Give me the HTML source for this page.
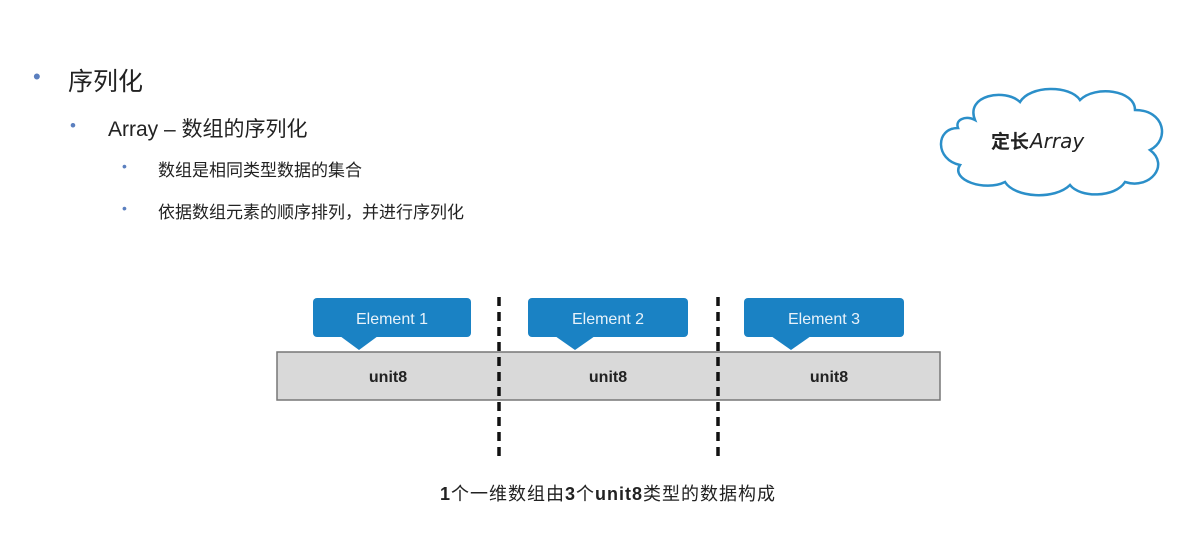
<!DOCTYPE html>
<html><head><meta charset="utf-8"><style>
body{margin:0;width:1201px;height:537px;background:#fff;position:relative;overflow:hidden;font-family:"Liberation Sans","Noto Sans CJK SC",sans-serif;color:#222}
.t{position:absolute;white-space:nowrap}
.b{position:absolute;color:#5b7fbf}
</style></head><body>
<div class="b" style="left:33px;top:64px;font-size:22px">•</div>
<div class="t" style="left:68px;top:62px;font-size:25px">序列化</div>
<div class="b" style="left:70px;top:116px;font-size:17px">•</div>
<div class="t" style="left:108px;top:113px;font-size:21px">Array – 数组的序列化</div>
<div class="b" style="left:122px;top:158px;font-size:14px">•</div>
<div class="t" style="left:158px;top:156px;font-size:17px">数组是相同类型数据的集合</div>
<div class="b" style="left:122px;top:200px;font-size:14px">•</div>
<div class="t" style="left:158px;top:198px;font-size:17px">依据数组元素的顺序排列，并进行序列化</div>

<svg width="1201" height="537" style="position:absolute;left:0;top:0">
<path d="M975,120 C965,95 1005,88 1020,102 C1030,85 1070,85 1080,100 C1095,85 1135,90 1135,110 C1165,110 1170,140 1150,150 C1170,165 1150,190 1125,182 C1115,198 1080,198 1070,185 C1055,200 1015,198 1005,182 C985,192 950,180 960,165 C935,160 935,128 958,128 C955,120 965,115 975,120 Z" fill="#fff" stroke="#2b8fc9" stroke-width="2.5"/>
<text x="991" y="148" font-size="19" font-family="Liberation Sans,Noto Sans CJK SC,sans-serif" font-weight="bold" fill="#222">定长</text>
<text x="1030" y="148" font-size="20" font-style="italic" font-family="DejaVu Sans,sans-serif" fill="#222">Array</text>

<rect x="277" y="352" width="663" height="48" fill="#d9d9d9" stroke="#777" stroke-width="1.5"/>
<g fill="#1a82c4">
<rect x="313" y="298" width="158" height="39" rx="4"/><polygon points="340,336 378,336 359,350"/>
<rect x="528" y="298" width="160" height="39" rx="4"/><polygon points="555,336 595,336 575,350"/>
<rect x="744" y="298" width="160" height="39" rx="4"/><polygon points="771,336 811,336 791,350"/>
</g>
<g fill="#e8f2fa" font-size="16" font-family="Liberation Sans,sans-serif" text-anchor="middle">
<text x="392" y="324">Element 1</text><text x="608" y="324">Element 2</text><text x="824" y="324">Element 3</text>
</g>
<g fill="#222" font-size="16" font-weight="bold" font-family="Liberation Sans,sans-serif" text-anchor="middle">
<text x="388" y="382">unit8</text><text x="608" y="382">unit8</text><text x="829" y="382">unit8</text>
</g>
<g stroke="#111" stroke-width="3.5" stroke-dasharray="9,6">
<line x1="499" y1="297" x2="499" y2="456"/><line x1="718" y1="297" x2="718" y2="456"/>
</g>
</svg>
<div class="t" style="left:440px;top:480px;font-size:18px;letter-spacing:1px;color:#222"><b>1</b>个一维数组由<b>3</b>个<b>unit8</b>类型的数据构成</div>
</body></html>
